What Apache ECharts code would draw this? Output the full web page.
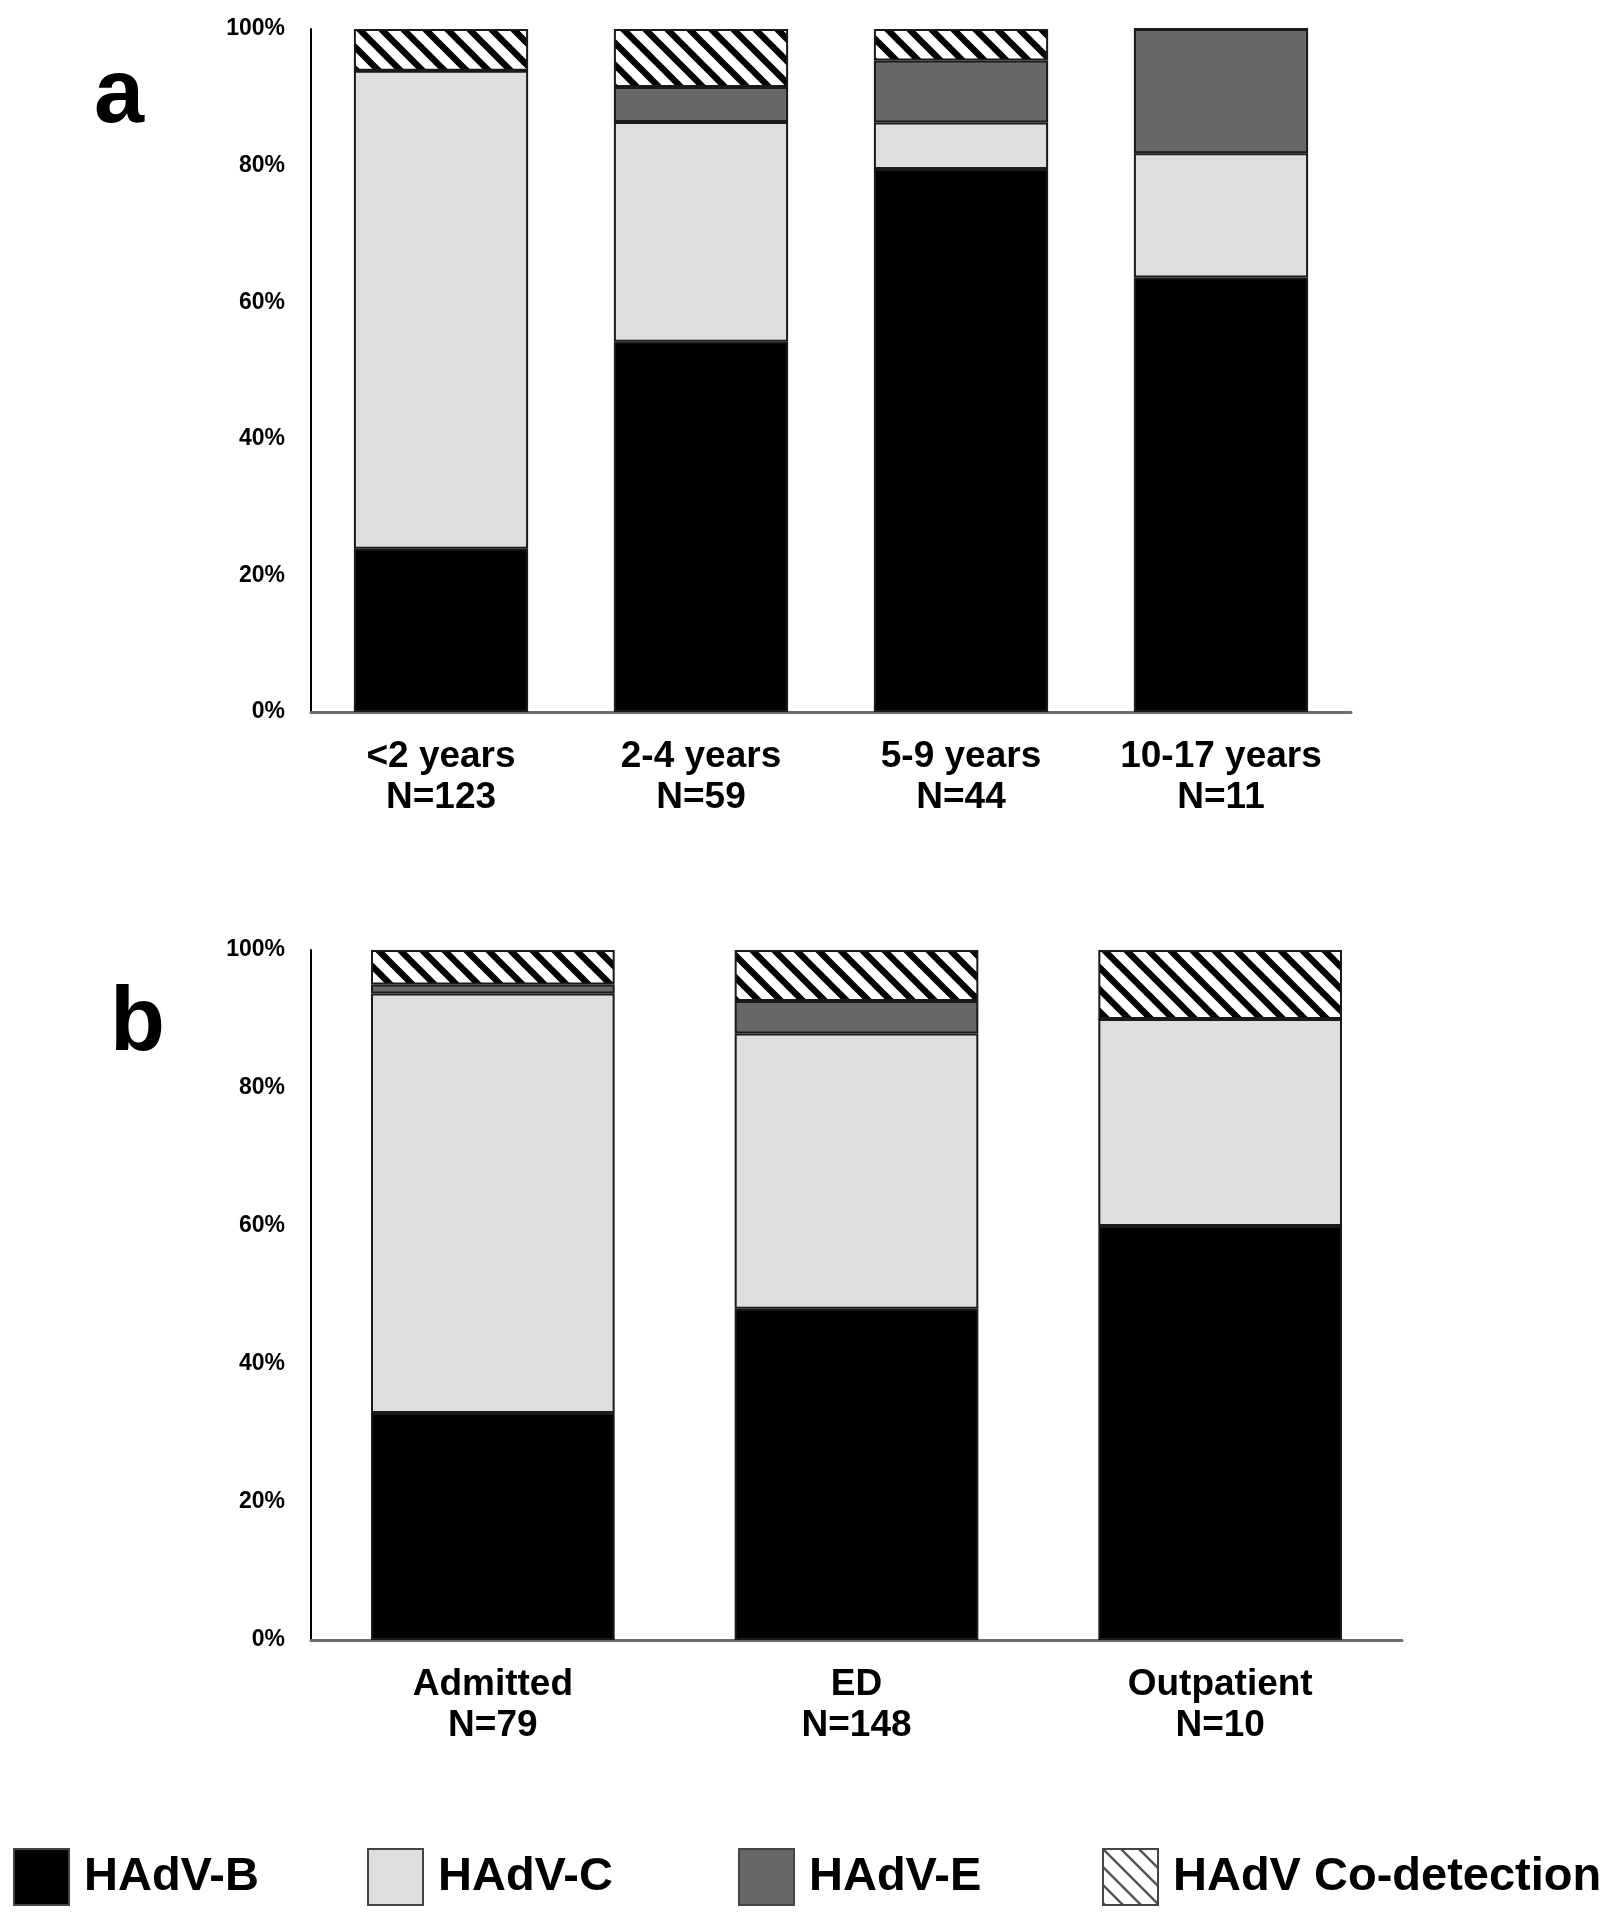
<!DOCTYPE html>
<html>
<head>
<meta charset="utf-8">
<script src="https://cdn.jsdelivr.net/npm/echarts@6/dist/echarts.min.js"></script>
<style>
html,body{margin:0;padding:0;background:#fff;}
#chart{width:1613px;height:1920px;}
</style>
</head>
<body>
<div id="chart"></div>
<script>
// ---- Data ----
const seriesNames = ['HAdV-B', 'HAdV-C', 'HAdV-E', 'HAdV Co-detection'];

// Panel a: age groups
const groupsA = ['<2 years', '2-4 years', '5-9 years', '10-17 years'];
const nA = [123, 59, 44, 11];
const bA = [23.9, 54.2, 79.5, 63.6];
const cA = [70.0, 32.2, 6.8, 18.2];
const eA = [0, 5.1, 9.1, 18.2];
const coA = [6.1, 8.5, 4.6, 0];

// Panel b: care setting
const groupsB = ['Admitted', 'ED', 'Outpatient'];
const nB = [79, 148, 10];
const bB = [32.9, 48.0, 60.0];
const cB = [60.8, 39.9, 30.0];
const eB = [1.3, 4.7, 0];
const coB = [5.0, 7.4, 10.0];

const yTicks = [0, 20, 40, 60, 80, 100];

// ---- Styles ----
const FONT = '"Liberation Sans", Arial, sans-serif';
function hatch(P, lw, col) {
  const c = document.createElement('canvas');
  c.width = P; c.height = P;
  const g = c.getContext('2d');
  g.fillStyle = '#fff';
  g.fillRect(0, 0, P, P);
  g.strokeStyle = col;
  g.lineWidth = lw;
  for (let o = -P; o <= P; o += P) {
    g.beginPath();
    g.moveTo(o - 2, -2);
    g.lineTo(o + P + 2, P + 2);
    g.stroke();
  }
  return { image: c, repeat: 'repeat' };
}
const colors = ['#000000', '#dedede', '#686868', hatch(22, 6.5, '#000')];
const legendColors = ['#000000', '#dedede', '#686868', hatch(18, 2.5, '#555')];
const legendLefts = [8, 362, 733, 1097];

const catsA = groupsA.map((g, i) => g + '\nN=' + nA[i]);
const catsB = groupsB.map((g, i) => g + '\nN=' + nB[i]);
const valsA = [bA, cA, eA, coA];
const valsB = [bB, cB, eB, coB];

function mkSeries(vals, idx, stack) {
  return vals.map((v, k) => ({
    name: seriesNames[k],
    type: 'bar',
    stack: stack,
    xAxisIndex: idx,
    yAxisIndex: idx,
    barWidth: '67%',
    data: v,
    itemStyle: { color: colors[k], borderColor: '#1a1a1a', borderWidth: 2 },
    emphasis: { disabled: true }
  }));
}

function yAxis(idx) {
  return {
    type: 'value', gridIndex: idx, min: 0, max: 100, interval: 20,
    axisLine: { show: true, lineStyle: { color: '#000', width: 2 } },
    axisTick: { show: false },
    splitLine: { show: false },
    axisLabel: {
      formatter: v => (yTicks.includes(v) ? v + '%' : ''),
      color: '#000', fontFamily: FONT, fontWeight: 'bold', fontSize: 23, margin: 26
    }
  };
}
function xAxis(idx, cats) {
  return {
    type: 'category', gridIndex: idx, data: cats,
    axisLine: { show: true, lineStyle: { color: '#6e6e6e', width: 3 } },
    axisTick: { show: false },
    axisLabel: {
      color: '#000', fontFamily: FONT, fontWeight: 'bold', fontSize: 37,
      lineHeight: 41, margin: 24, interval: 0
    }
  };
}

const legends = seriesNames.map((name, k) => ({
  data: [name],
  left: legendLefts[k], top: 1843,
  itemWidth: 55, itemHeight: 56,
  selectedMode: false,
  icon: 'rect',
  itemStyle: { color: legendColors[k], borderColor: '#444', borderWidth: 2 },
  textStyle: { color: '#000', fontFamily: FONT, fontWeight: 'bold', fontSize: 47, padding: [0, 0, 0, 10] }
}));

const chart = echarts.init(document.getElementById('chart'), null, { renderer: 'canvas' });
chart.setOption({
  backgroundColor: '#fff',
  animation: false,
  grid: [
    { left: 311, top: 29, width: 1040, height: 683 },
    { left: 311, top: 950, width: 1091, height: 690 }
  ],
  xAxis: [xAxis(0, catsA), xAxis(1, catsB)],
  yAxis: [yAxis(0), yAxis(1)],
  legend: legends,
  graphic: [
    { type: 'text', left: 94, top: 52, style: { text: 'a', font: 'bold 90px ' + FONT, fill: '#000' } },
    { type: 'text', left: 110, top: 980, style: { text: 'b', font: 'bold 90px ' + FONT, fill: '#000' } }
  ],
  series: mkSeries(valsA, 0, 'a').concat(mkSeries(valsB, 1, 'b'))
});
</script>
</body>
</html>
